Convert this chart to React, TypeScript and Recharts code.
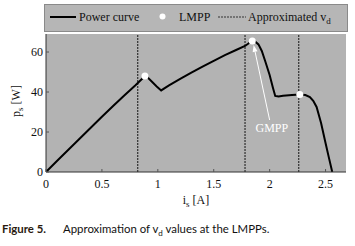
import React from 'react';
import { ComposedChart, Line, Scatter, XAxis, YAxis, ReferenceLine, ReferenceDot, CartesianGrid, Label } from 'recharts';

// Power curve p_s vs i_s
const currentA = [0, 0.1, 0.2, 0.3, 0.4, 0.5, 0.6, 0.7, 0.8, 0.86, 0.885, 0.91, 0.95, 0.99, 1.03, 1.1, 1.2, 1.3, 1.4, 1.5, 1.6, 1.7, 1.78, 1.82, 1.845, 1.87, 1.9, 1.93, 1.96, 2.0, 2.03, 2.05, 2.08, 2.12, 2.2, 2.27, 2.32, 2.36, 2.39, 2.42, 2.46, 2.5, 2.53, 2.56];
const powerW = [0, 5.6, 11.1, 16.6, 22.1, 27.6, 33.0, 38.3, 43.4, 46.6, 48.0, 47.2, 45.0, 42.8, 40.8, 43.3, 46.6, 49.7, 52.7, 55.6, 58.4, 61.0, 63.0, 64.6, 65.5, 65.3, 63.8, 60.5, 55.5, 48.5, 42.0, 38.0, 37.7, 38.1, 38.5, 38.8, 38.5, 37.5, 35.6, 32.5, 24.5, 14.5, 7.2, 0];
// Local maximum power points
const lmppCurrent = [0.885, 1.845, 2.27];
const lmppPower = [48.0, 65.5, 38.8];
// Approximated v_d positions (vertical dashed lines)
const vdCurrent = [0.82, 1.78, 2.26];
// GMPP annotation (arrow tail, arrow head, label)
const gmppArrow = [{ x: 2.0, y: 26 }, { x: 1.857, y: 63.5 }];
const gmppLabel = { x: 2.02, y: 22.2, text: 'GMPP' };
// Axes
const xTicks = [0, 0.5, 1, 1.5, 2, 2.5];
const yTicks = [0, 20, 40, 60];
const xDomain = [0, 2.683];
const yDomain = [0, 69];
const seriesNames = ['Power curve', 'LMPP', 'Approximated v'];
const caption = ['Figure 5.', 'Approximation of v', 'd', ' values at the LMPPs.'];

const curveData = currentA.map((x, i) => ({ x, p: powerW[i] }));
const lmppData = lmppCurrent.map((x, i) => ({ x, p: lmppPower[i] }));

const SERIF = '"Liberation Serif", "Times New Roman", serif';
const TICK_COLOR = '#555';

const BottomTick = (props: any) => {
  const { x, y, payload } = props;
  return (
    <g>
      <line x1={x} x2={x} y1={y} y2={y - 3} stroke={TICK_COLOR} strokeWidth={1} />
      <text x={x} y={y + 16} textAnchor="middle" fontFamily={SERIF} fontSize={12} fill="#111">
        {payload.value}
      </text>
    </g>
  );
};
const LeftTick = (props: any) => {
  const { x, y, payload } = props;
  return (
    <g>
      <line x1={x} x2={x + 3} y1={y} y2={y} stroke={TICK_COLOR} strokeWidth={1} />
      <text x={x - 3} y={y + 4} textAnchor="end" fontFamily={SERIF} fontSize={12} fill="#111">
        {payload.value}
      </text>
    </g>
  );
};
const TopTick = (props: any) => {
  const { x, y } = props;
  return <line x1={x} x2={x} y1={y} y2={y + 3} stroke={TICK_COLOR} strokeWidth={1} />;
};
const RightTick = (props: any) => {
  const { x, y } = props;
  return <line x1={x} x2={x - 3} y1={y} y2={y} stroke={TICK_COLOR} strokeWidth={1} />;
};

const ArrowShape = (props: any) => {
  const { x1, y1, x2, y2 } = props;
  if ([x1, y1, x2, y2].some((v) => v === undefined || isNaN(v))) return null;
  const ang = Math.atan2(y2 - y1, x2 - x1);
  const len = 7;
  const w = 2.5;
  const bx = x2 - len * Math.cos(ang);
  const by = y2 - len * Math.sin(ang);
  const px = -Math.sin(ang) * w;
  const py = Math.cos(ang) * w;
  return (
    <g>
      <line x1={x1} y1={y1} x2={bx} y2={by} stroke="#fff" strokeWidth={1} />
      <polygon points={`${x2},${y2} ${bx + px},${by + py} ${bx - px},${by - py}`} fill="#fff" />
    </g>
  );
};

const YLabel = (props: any) => {
  const { viewBox } = props;
  const cx = 20;
  const cy = viewBox.y + viewBox.height / 2 - 2;
  return (
    <text x={cx} y={cy} transform={`rotate(-90, ${cx}, ${cy})`} textAnchor="middle" fontFamily={SERIF} fontSize={12} fill="#111">
      p<tspan fontSize={9} dy={3}>s</tspan>
      <tspan dy={-3}> [W]</tspan>
    </text>
  );
};
const XLabel = (props: any) => {
  const { viewBox } = props;
  const cx = viewBox.x + viewBox.width / 2;
  return (
    <text x={cx} y={204} textAnchor="middle" fontFamily={SERIF} fontSize={12} fill="#111">
      i<tspan fontSize={9} dy={3}>s</tspan>
      <tspan dy={-3}> [A]</tspan>
    </text>
  );
};

const Legend = () => (
  <div
    style={{
      position: 'absolute',
      left: 44,
      top: 4,
      width: 302,
      height: 26,
      background: '#b6b6b6',
      border: '1px solid #8a8a8a',
    }}
  >
    <svg width={302} height={26} style={{ display: 'block' }}>
      <line x1={5} x2={31} y1={12} y2={12} stroke="#000" strokeWidth={2} />
      <text x={34} y={16} fontFamily={SERIF} fontSize={12} fill="#111">{seriesNames[0]}</text>
      <circle cx={117.5} cy={11.5} r={3} fill="#fff" />
      <text x={134} y={16} fontFamily={SERIF} fontSize={12} fill="#111">{seriesNames[1]}</text>
      <line x1={173} x2={201} y1={12} y2={12} stroke="#333" strokeWidth={1.2} strokeDasharray="2 1" />
      <text x={203} y={16} fontFamily={SERIF} fontSize={12} fill="#111">
        {seriesNames[2]}
        <tspan fontSize={9} dy={3}>d</tspan>
      </text>
    </svg>
  </div>
);

export default function App() {
  return (
    <div style={{ position: 'absolute', left: 0, top: 0, width: 355, height: 246, background: '#fff' }}>
      <ComposedChart
        width={355}
        height={210}
        data={curveData}
        margin={{ top: 34, right: 9, left: 0, bottom: 10 }}
      >
        <CartesianGrid fill="#b3b3b3" horizontal={false} vertical={false} />
        <XAxis
          xAxisId="b"
          dataKey="x"
          type="number"
          domain={xDomain}
          ticks={xTicks}
          allowDataOverflow
          height={28}
          tickSize={0}
          tickMargin={0}
          tickLine={false}
          axisLine={{ stroke: '#333' }}
          tick={<BottomTick />}
          interval={0}
        >
          <Label content={<XLabel />} />
        </XAxis>
        <XAxis
          xAxisId="t"
          orientation="top"
          dataKey="x"
          type="number"
          domain={xDomain}
          ticks={xTicks}
          allowDataOverflow
          height={0}
          tickSize={0}
          tickMargin={0}
          tickLine={false}
          axisLine={{ stroke: '#555' }}
          tick={<TopTick />}
          interval={0}
        />
        <YAxis
          yAxisId="l"
          type="number"
          domain={yDomain}
          ticks={yTicks}
          allowDataOverflow
          width={46}
          tickSize={0}
          tickMargin={0}
          tickLine={false}
          axisLine={{ stroke: '#333' }}
          tick={<LeftTick />}
          interval={0}
        >
          <Label content={<YLabel />} />
        </YAxis>
        <YAxis
          yAxisId="r"
          orientation="right"
          type="number"
          domain={yDomain}
          ticks={yTicks}
          allowDataOverflow
          width={0}
          tickSize={0}
          tickMargin={0}
          tickLine={false}
          axisLine={{ stroke: '#777' }}
          tick={<RightTick />}
          interval={0}
        />
        {vdCurrent.map((v) => (
          <ReferenceLine
            key={v}
            x={v}
            xAxisId="b"
            yAxisId="l"
            stroke="#3a3a3a"
            strokeWidth={1.3}
            strokeDasharray="2 1"
          />
        ))}
        <Line
          xAxisId="b"
          yAxisId="l"
          dataKey="p"
          type="linear"
          stroke="#000"
          strokeWidth={2}
          dot={false}
          activeDot={false}
          isAnimationActive={false}
        />
        <Scatter
          xAxisId="b"
          yAxisId="l"
          data={lmppData}
          dataKey="p"
          fill="#fff"
          shape={(p: any) => <circle cx={p.cx} cy={p.cy} r={3.5} fill="#fff" />}
          isAnimationActive={false}
        />
        <ReferenceLine
          xAxisId="b"
          yAxisId="l"
          segment={gmppArrow}
          shape={<ArrowShape />}
        />
        <ReferenceDot
          xAxisId="b"
          yAxisId="l"
          x={gmppLabel.x}
          y={gmppLabel.y}
          r={0}
          stroke="none"
          fill="none"
          label={{ value: gmppLabel.text, position: 'center', fill: '#fff', fontSize: 12, fontFamily: SERIF }}
        />
      </ComposedChart>
      <Legend />
      <div
        style={{
          position: 'absolute',
          left: 2,
          top: 222,
          fontFamily: '"Lato", "DejaVu Sans", sans-serif',
          fontSize: 11.4,
          color: '#111',
          whiteSpace: 'nowrap',
          lineHeight: '14px',
        }}
      >
        <span style={{ fontWeight: 'bold', color: '#2a1a10' }}>{caption[0]}</span>
        <span style={{ marginLeft: 17 }}>{caption[1]}</span>
        <sub style={{ fontSize: 8 }}>{caption[2]}</sub>
        <span>{caption[3]}</span>
      </div>
    </div>
  );
}
